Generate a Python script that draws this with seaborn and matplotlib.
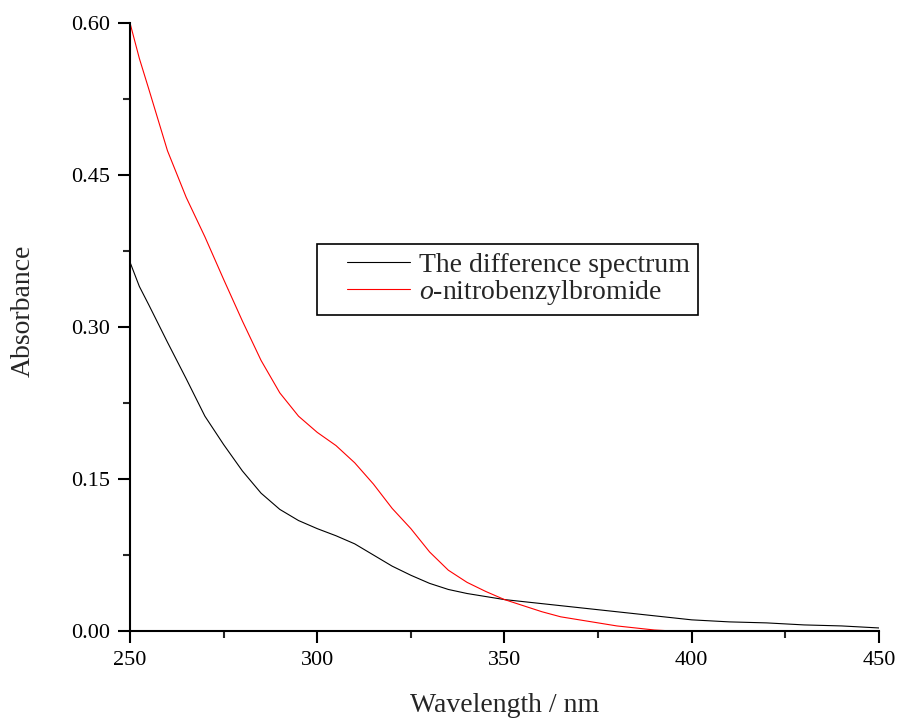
import numpy as np
import pandas as pd
import matplotlib
matplotlib.use("Agg")
import matplotlib.pyplot as plt
import seaborn as sns
from matplotlib.ticker import MultipleLocator, FormatStrFormatter
from matplotlib.legend_handler import HandlerLine2D

# Data
wl_diff = [250, 252.5, 255, 260, 265, 270, 275, 280, 285, 290, 295, 300, 305, 310,
           315, 320, 325, 330, 335, 340, 345, 350, 355, 360, 365, 370, 375, 380,
           385, 390, 395, 400, 410, 420, 430, 440, 450]
abs_diff = [0.364, 0.340, 0.322, 0.285, 0.249, 0.212, 0.184, 0.158, 0.136, 0.120,
            0.109, 0.101, 0.094, 0.086, 0.075, 0.064, 0.055, 0.047, 0.041, 0.037,
            0.034, 0.031, 0.029, 0.027, 0.025, 0.023, 0.021, 0.019, 0.017, 0.015,
            0.013, 0.011, 0.009, 0.008, 0.006, 0.005, 0.003]

wl_onb = [250, 252.5, 255, 260, 265, 270, 275, 280, 285, 290, 295, 300, 305, 310,
          315, 320, 325, 330, 335, 340, 345, 350, 355, 360, 365, 370, 375, 380,
          385, 390, 395, 398]
abs_onb = [0.600, 0.565, 0.535, 0.474, 0.428, 0.389, 0.347, 0.306, 0.267, 0.235,
           0.212, 0.196, 0.183, 0.166, 0.145, 0.121, 0.101, 0.078, 0.060, 0.048,
           0.039, 0.031, 0.025, 0.019, 0.014, 0.011, 0.008, 0.005, 0.003, 0.001,
           0.000, 0.000]

label_diff = "The difference spectrum"
label_onb = r"$\it{o}$-nitrobenzylbromide"

df = pd.concat([
    pd.DataFrame({"Wavelength": wl_diff, "Absorbance": abs_diff, "series": label_diff}),
    pd.DataFrame({"Wavelength": wl_onb, "Absorbance": abs_onb, "series": label_onb}),
], ignore_index=True)

sns.set_style("ticks")
plt.rcParams["font.family"] = ["Liberation Serif", "DejaVu Serif"]
plt.rcParams["mathtext.fontset"] = "custom"
plt.rcParams["mathtext.it"] = "Liberation Serif:italic"
plt.rcParams["mathtext.rm"] = "Liberation Serif"

fig = plt.figure(figsize=(9, 7.2), dpi=100)
ax = fig.add_axes([130/900, 1-631/720, (879-130)/900, (631-23)/720])

sns.lineplot(data=df, x="Wavelength", y="Absorbance", hue="series",
             palette={label_diff: "black", label_onb: "red"},
             linewidth=0.8, ax=ax, sort=False, estimator=None)

ax.set_xlim(250, 450)
ax.set_ylim(0, 0.60)
ax.xaxis.set_major_locator(MultipleLocator(50))
ax.xaxis.set_minor_locator(MultipleLocator(25))
ax.yaxis.set_major_locator(MultipleLocator(0.15))
ax.yaxis.set_minor_locator(MultipleLocator(0.075))
ax.yaxis.set_major_formatter(FormatStrFormatter("%.2f"))

for s in ["top", "right"]:
    ax.spines[s].set_visible(False)
for s in ["left", "bottom"]:
    ax.spines[s].set_linewidth(1.5)
    ax.spines[s].set_color("black")

ax.tick_params(which="major", direction="out", length=8.6, width=1.5, labelsize=16, colors="black")
ax.tick_params(which="minor", direction="out", length=5, width=1.5)
ax.tick_params(axis="x", which="major", pad=6)
ax.tick_params(axis="y", which="major", pad=6)

ax.set_xlabel("Wavelength / nm", fontsize=20, va="center")
ax.xaxis.set_label_coords(0.5, (631-705)/608)
ax.set_ylabel("Absorbance", fontsize=20, va="center")
ax.yaxis.set_label_coords((23-130)/749, (631-311)/608)


class ShortHandler(HandlerLine2D):
    def get_xdata(self, legend, xdescent, ydescent, width, height, fontsize):
        xd = np.array([-xdescent + 0.26 * width, -xdescent + width])
        return xd, xd


handles, labels = ax.get_legend_handles_labels()
leg = ax.legend(handles, labels, loc="upper left", bbox_to_anchor=(0.2497, 0.6365),
                fontsize=20, frameon=True, fancybox=False, shadow=False,
                handlelength=3.06, borderpad=0.3, labelspacing=0.0,
                handletextpad=0.3, borderaxespad=0,
                handler_map={h: ShortHandler() for h in handles})
leg.get_frame().set_edgecolor("black")
leg.get_frame().set_linewidth(1.2)
leg.get_frame().set_alpha(1)
for line in leg.get_lines():
    line.set_linewidth(0.8)

fig.savefig("out.png", dpi=100)
